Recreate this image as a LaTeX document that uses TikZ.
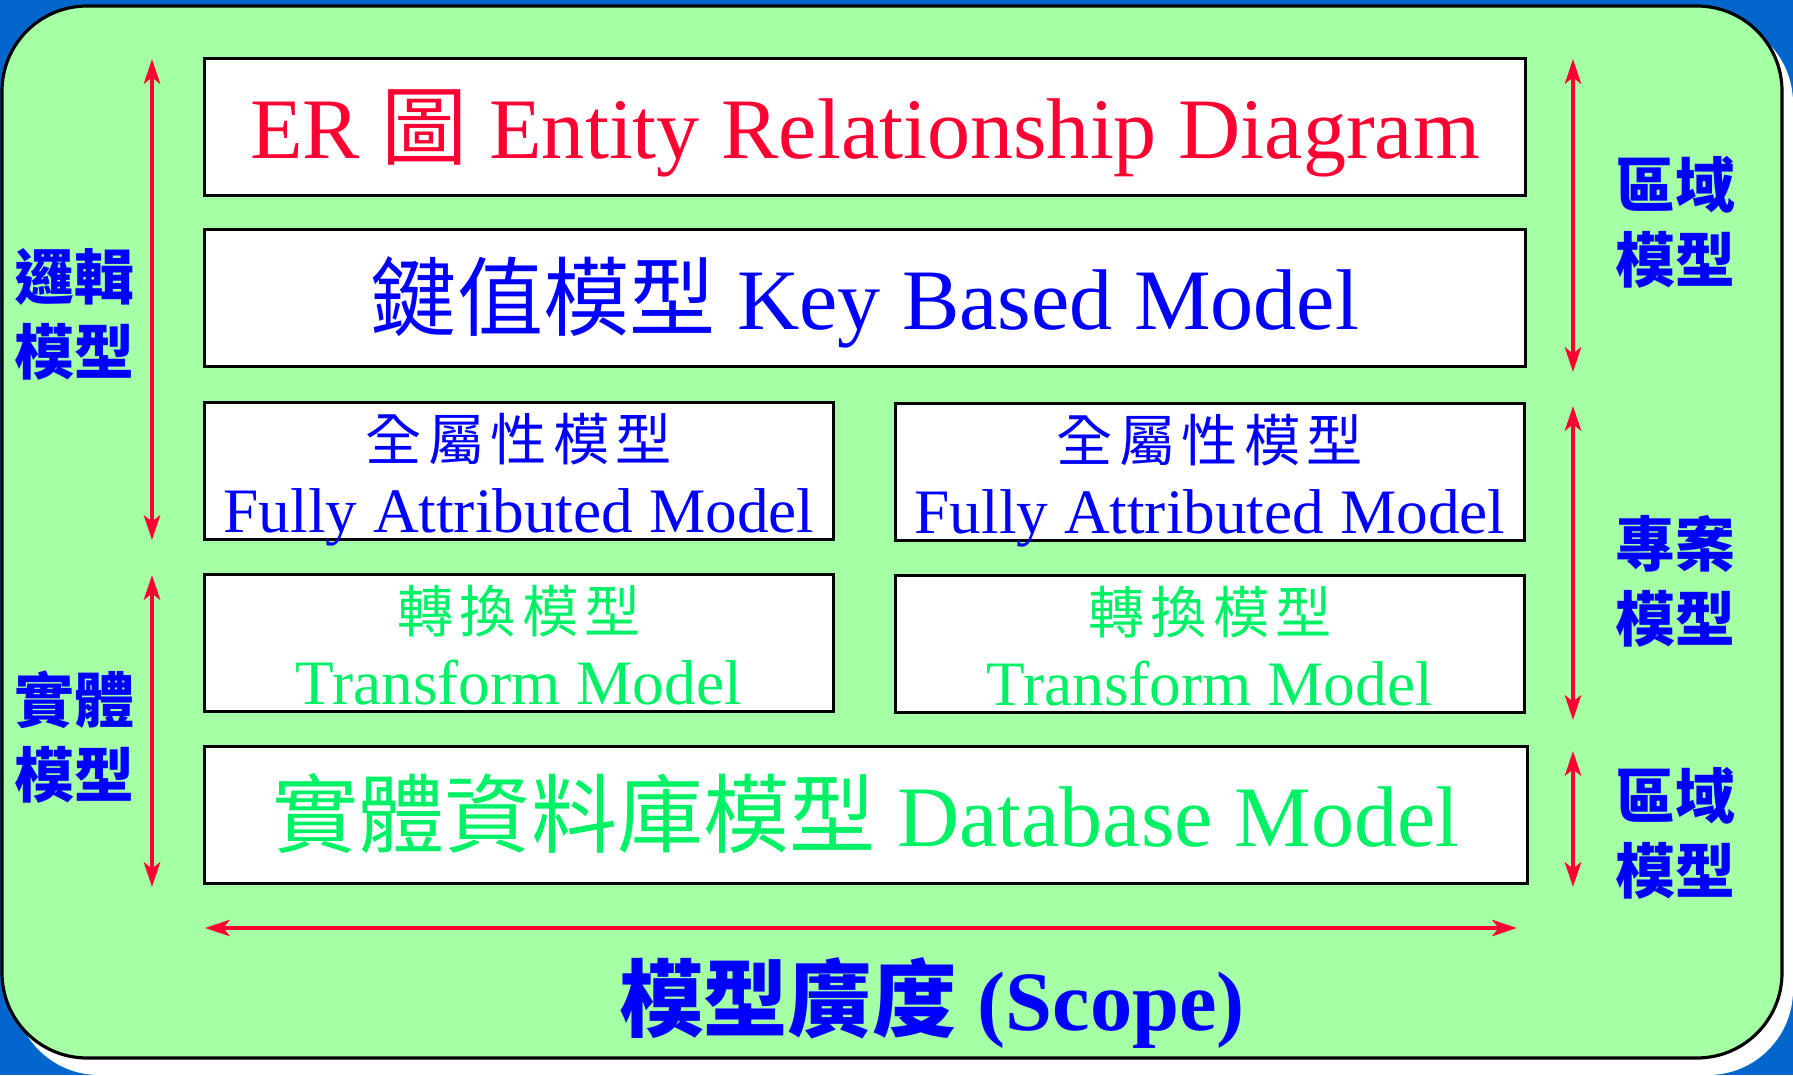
\documentclass[tikz,border=0pt]{standalone}
\usepackage{fontspec}
\setmainfont{Liberation Serif}
\newfontfamily\cjk{Noto Sans CJK TC}
\newfontfamily\cjkwide[LetterSpace=11]{Noto Sans CJK TC}
\usetikzlibrary{arrows.meta}

\definecolor{slideblue}{RGB}{0,102,204}
\definecolor{panelgreen}{RGB}{165,255,165}
\definecolor{erred}{RGB}{255,0,51}
\definecolor{keyblue}{RGB}{0,0,255}
\definecolor{dbgreen}{RGB}{0,240,102}

\begin{document}
\begin{tikzpicture}[x=0.01cm, y=-0.01cm,
        modelbox/.style={draw=black, line width=0.9pt, fill=white, inner sep=0pt, align=center},
        widebox/.style={modelbox, minimum width=13.2cm, minimum height=1.37cm, text height=18pt, text depth=0pt, font=\fontsize{24.5}{28}\selectfont},
        halfbox/.style={modelbox, minimum width=6.29cm, minimum height=1.37cm, text height=35pt, text depth=0pt, font=\fontsize{18}{20.5}\selectfont},
        scopearrow/.style={draw=erred, line width=1.4pt, >={Stealth[length=7pt,width=4.6pt,inset=1.8pt]}, <->},
        sidelabel/.style={text=keyblue, align=center, font=\fontsize{17}{21.3}\selectfont\cjk\bfseries}]

        \useasboundingbox (0,0) rectangle (1793,1075);
        \fill[slideblue] (0,0) rectangle (1793,1075);
        \fill[white, rounded corners=0.85cm] (14,18) rectangle (1793,1075);
        \draw[fill=panelgreen, line width=0.9pt, rounded corners=0.85cm] (2,6) rectangle (1782,1058);

        \node[widebox, text=erred] (er) at (865,127) {ER {\cjk 圖} Entity Relationship Diagram};
        \node[widebox, text=keyblue] (key) at (865,298) {{\cjk 鍵值模型} Key Based Model};
        \node[halfbox, text=keyblue] (fa1) at (519,471) {{\cjkwide\fontsize{16}{20.5}\selectfont 全屬性模型}\\Fully Attributed Model};
        \node[halfbox, text=keyblue] (fa2) at (1210,472) {{\cjkwide\fontsize{16}{20.5}\selectfont 全屬性模型}\\Fully Attributed Model};
        \node[halfbox, text=dbgreen] (tr1) at (519,643) {{\cjkwide\fontsize{16}{20.5}\selectfont 轉換模型}\\Transform Model};
        \node[halfbox, text=dbgreen] (tr2) at (1210,644) {{\cjkwide\fontsize{16}{20.5}\selectfont 轉換模型}\\Transform Model};
        \node[widebox, text=dbgreen, minimum width=13.22cm] (db) at (866,815) {{\cjk 實體資料庫模型} Database Model};

        \coordinate (logtop) at (152,59);
        \coordinate (logbot) at (152,540);
        \coordinate (phytop) at (152,575);
        \coordinate (phybot) at (152,887);
        \coordinate (areatop) at (1573,59);
        \coordinate (areabot) at (1573,372);
        \coordinate (projtop) at (1573,406);
        \coordinate (projbot) at (1573,720);
        \coordinate (dbtop) at (1573,751);
        \coordinate (dbbot) at (1573,887);
        \coordinate (scopel) at (205,928);
        \coordinate (scoper) at (1517,928);

        \draw[scopearrow] (logtop) -- (logbot);
        \draw[scopearrow] (phytop) -- (phybot);
        \draw[scopearrow] (areatop) -- (areabot);
        \draw[scopearrow] (projtop) -- (projbot);
        \draw[scopearrow] (dbtop) -- (dbbot);
        \draw[scopearrow] (scopel) -- (scoper);

        \node[sidelabel] (logic) at (74,314) {邏輯\\模型};
        \node[sidelabel] (phys) at (74,737) {實體\\模型};
        \node[sidelabel] (area) at (1675,222) {區域\\模型};
        \node[sidelabel] (proj) at (1675,581) {專案\\模型};
        \node[sidelabel] (dbarea) at (1675,833) {區域\\模型};

        \node[text=keyblue, font=\fontsize{24}{28}\selectfont\bfseries] (scope) at (932,1003) {{\cjk 模型廣度} (Scope)};
\end{tikzpicture}
\end{document}
